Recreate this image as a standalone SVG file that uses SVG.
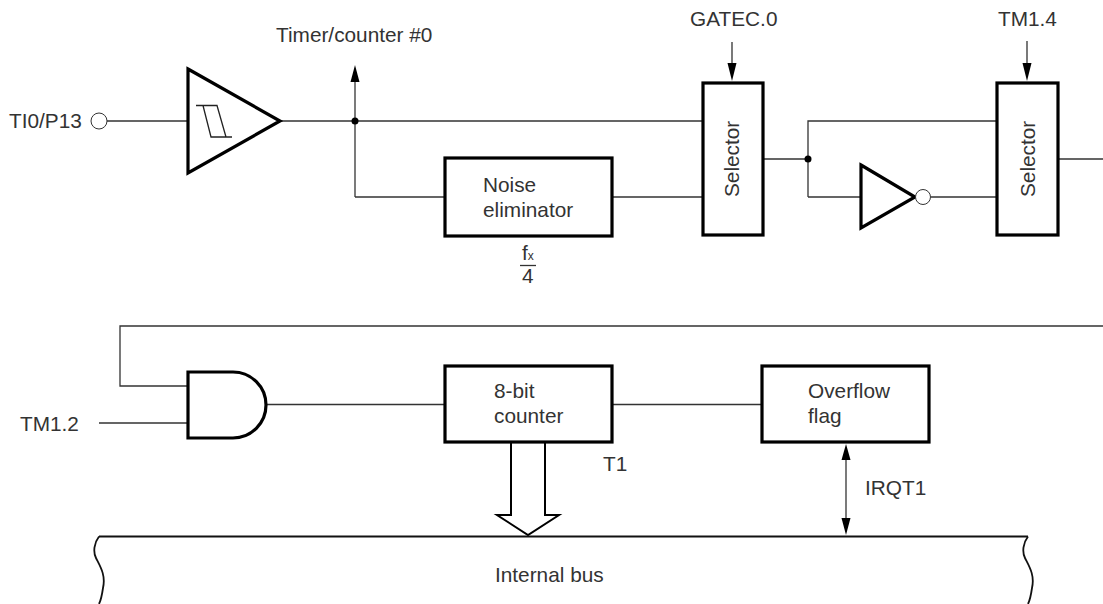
<svg xmlns="http://www.w3.org/2000/svg" width="1103" height="604" viewBox="0 0 1103 604">
<style>
text{font-family:"Liberation Sans",Arial,sans-serif;font-size:20.8px;fill:#333}
.w{fill:none;stroke:#333;stroke-width:1.3}
.b{fill:#fff;stroke:#000;stroke-width:3.2}
.o{fill:#fff;stroke:#333;stroke-width:1}
.ah{fill:#000;stroke:none}
.bus{fill:none;stroke:#111;stroke-width:1.8}
</style>
<rect width="1103" height="604" fill="#fff"/>
<g id="connectors">
<path class="w" d="M107 121H187M280 121H702"/>
<path class="w" d="M355 197V80"/>
<path class="w" d="M355 197H445M612 197H702"/>
<path class="w" d="M763 159H808M808 197V121H997M808 197H861M931 197H997M1058 159H1103"/>
<path class="w" d="M732 42V65M1027 41V65"/>
<path class="w" d="M1103 326H120V386H187M99 423H187M266 404.500H445M612 404.500H762"/>
<path class="w" d="M846 458V520"/>
<path class="ah" d="M355 65L359.500 82H350.500Z"/>
<path class="ah" d="M732 81L727.500 63H736.500Z"/>
<path class="ah" d="M1027 81L1022.500 63H1031.500Z"/>
<path class="ah" d="M846 444L850.500 460H841.500Z"/>
<path class="ah" d="M846 535L841.500 518H850.500Z"/>
<circle class="ah" cx="355" cy="121" r="3.500"/>
<circle class="ah" cx="808" cy="159" r="3.500"/>
<path fill="#fff" stroke="#000" stroke-width="2" d="M511 443V515H497L528 535L559 515H545V443"/>
</g>
<g id="input"><circle class="o" cx="99" cy="121" r="8"/><text x="9" y="128">TI0/P13</text></g>
<g id="schmitt">
<path class="b" d="M188 69L280 121L188 173Z"/>
<path fill="none" stroke="#222" stroke-width="1.300" d="M196 105.500H217L226 137H232M203 105.500L211 137H226"/>
</g>
<g id="timer-label"><text x="276" y="42">Timer/counter #0</text></g>
<g id="noise-eliminator"><rect class="b" x="445" y="158" width="167" height="78"/><text x="483" y="192">Noise</text><text x="483" y="217">eliminator</text></g>
<g id="fx4"><text x="522" y="260">f<tspan font-size="12">x</tspan></text><path class="w" d="M520 265.500H536"/><text x="522" y="283">4</text></g>
<g id="selector-1"><rect class="b" x="703" y="83" width="60" height="152"/><text transform="translate(739 197) rotate(-90)">Selector</text><text x="690" y="26">GATEC.0</text></g>
<g id="inverter"><path class="b" d="M861 165L915 197L861 228Z"/><circle class="o" cx="923" cy="197" r="7.500"/></g>
<g id="selector-2"><rect class="b" x="997" y="83" width="61" height="152"/><text transform="translate(1035 197) rotate(-90)">Selector</text><text x="998" y="26">TM1.4</text></g>
<g id="and-gate"><path class="b" d="M188 372H233A33 33 0 0 1 233 438H188Z"/><text x="20" y="431">TM1.2</text></g>
<g id="counter"><rect class="b" x="445" y="366" width="167" height="76"/><text x="494" y="398">8-bit</text><text x="494" y="423">counter</text><text x="603" y="471">T1</text></g>
<g id="overflow"><rect class="b" x="762" y="366" width="167" height="76"/><text x="808" y="398">Overflow</text><text x="808" y="423">flag</text></g>
<g id="irqt"><text x="865" y="495">IRQT1</text></g>
<g id="bus"><path class="bus" d="M99 536.500H1028"/><path class="bus" d="M99 536.500C94 543 93 552 96 558C100 566 106 575 103 588C102 595 101 600 99 604M1028 536.500C1023 543 1022 552 1025 558C1029 566 1035 575 1032 588C1031 595 1030 600 1028 604"/><text x="495" y="582">Internal bus</text></g>
</svg>
